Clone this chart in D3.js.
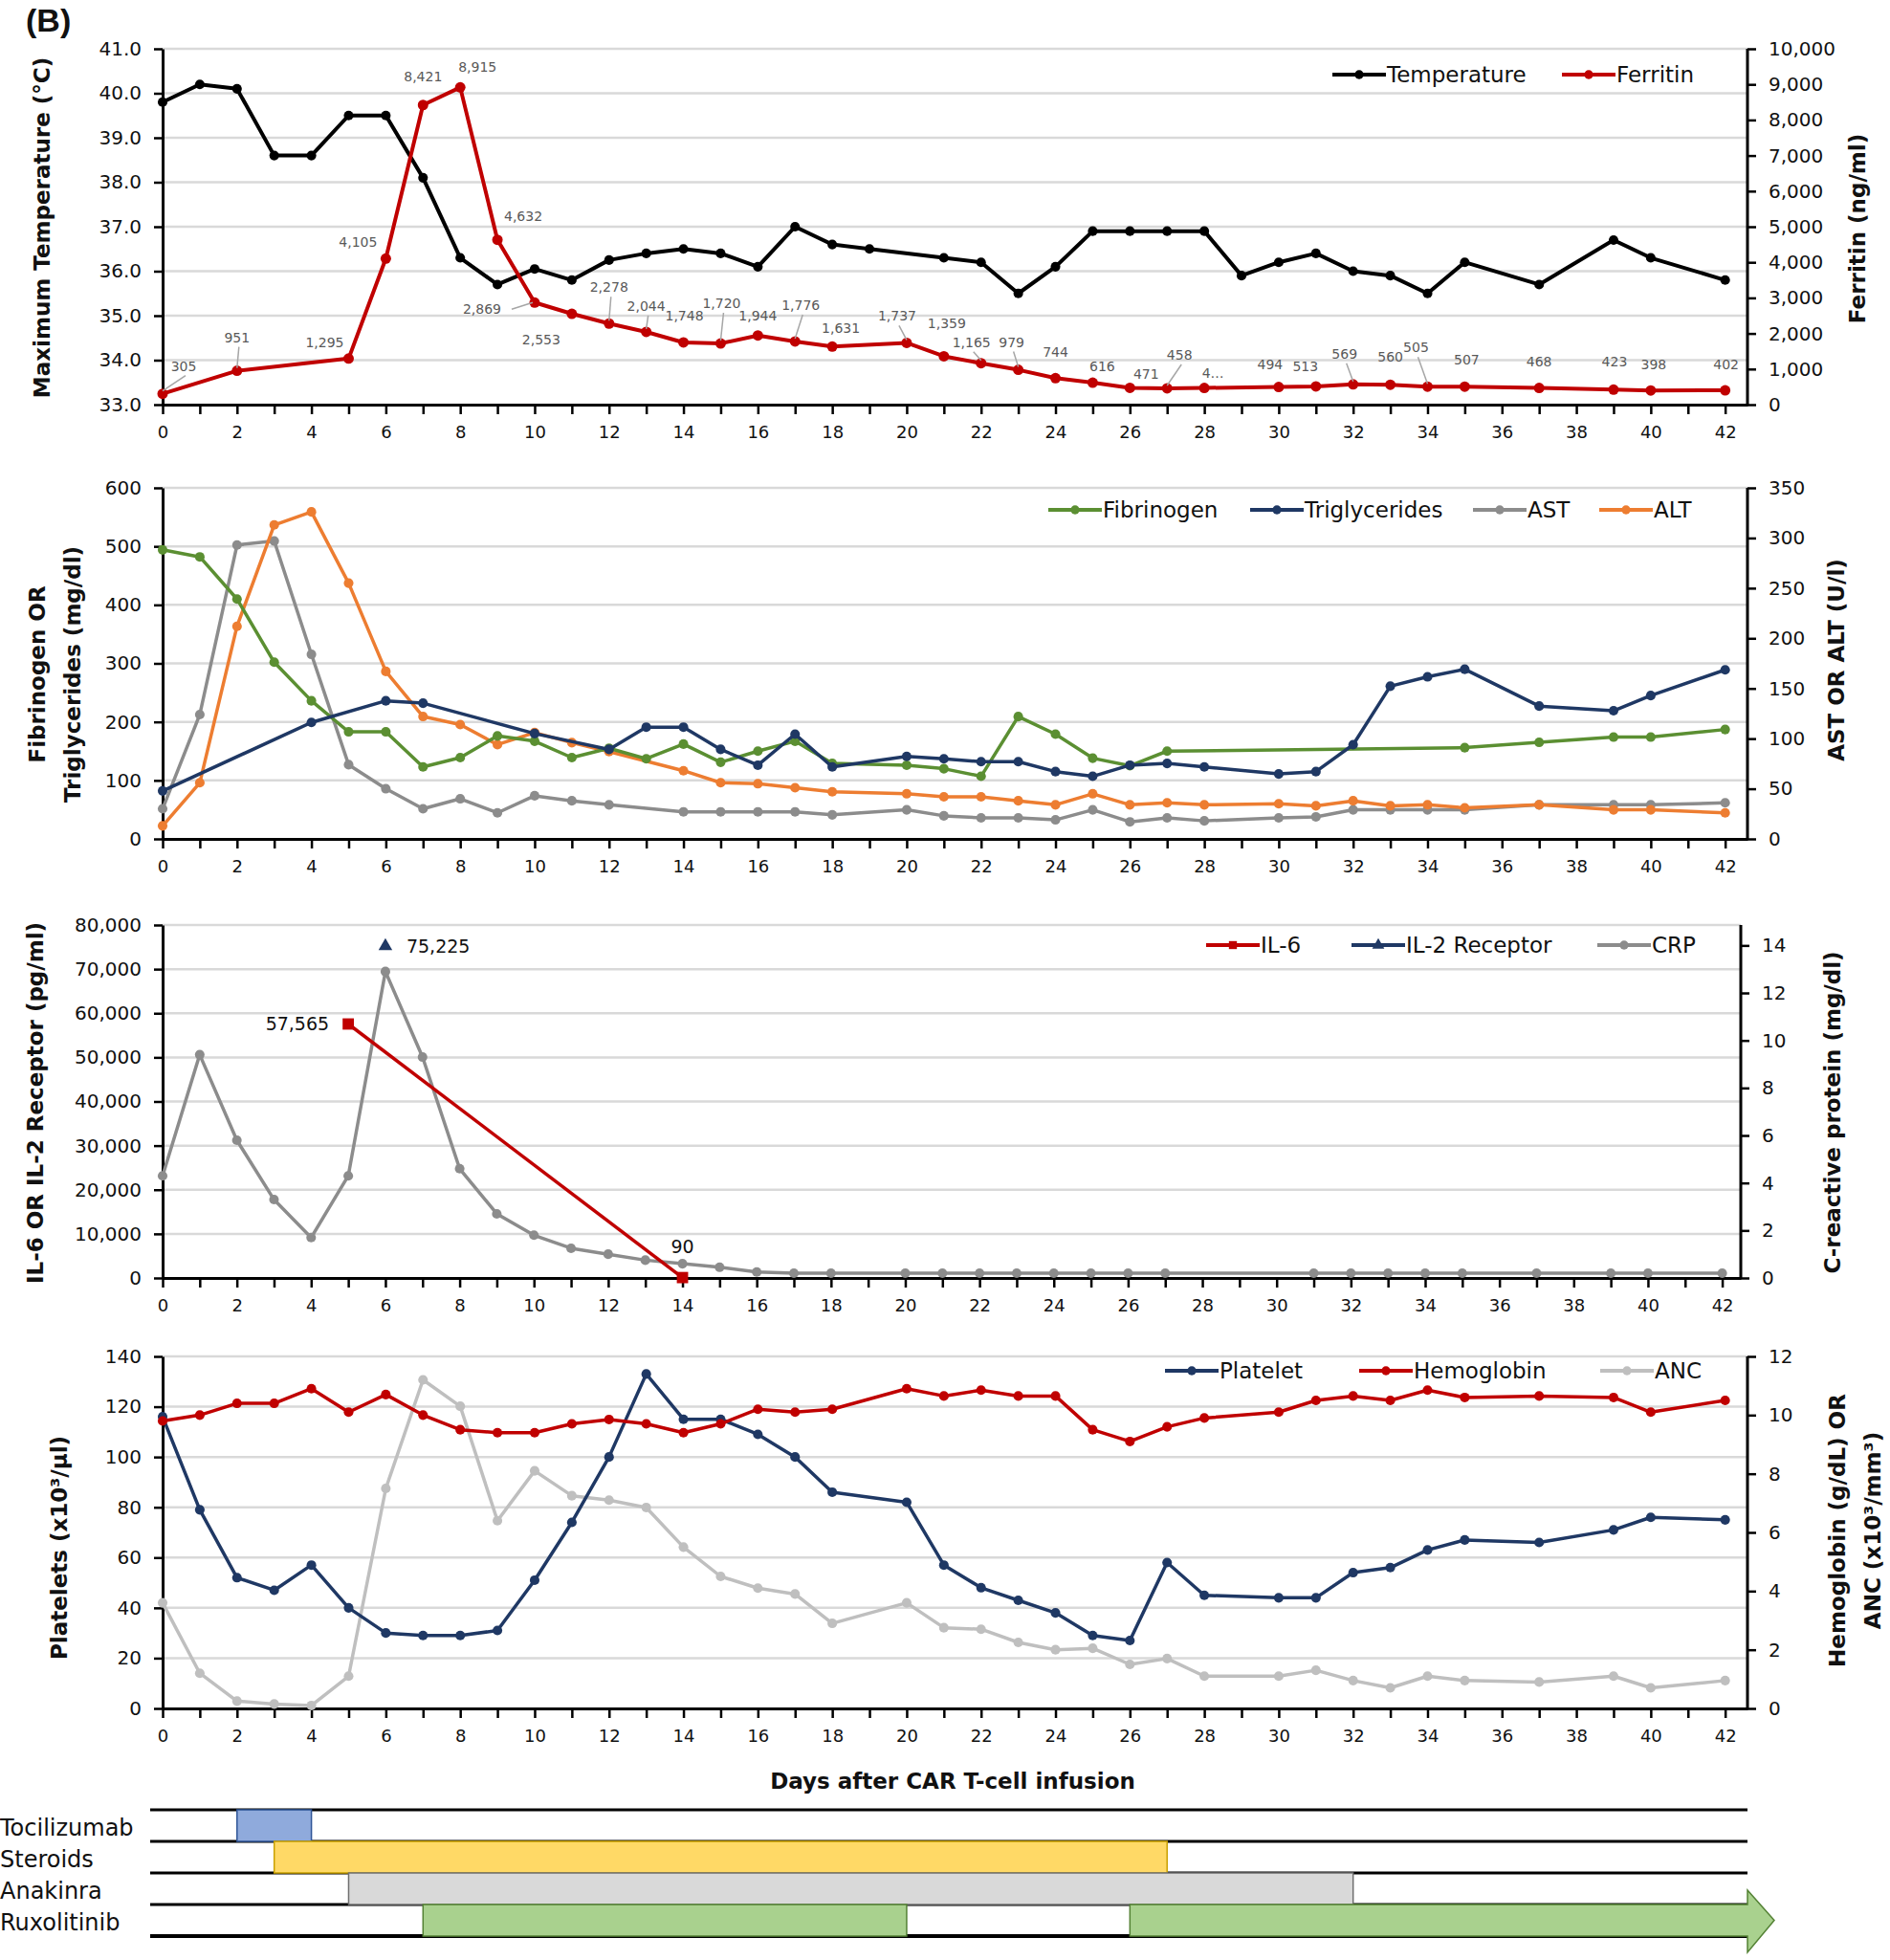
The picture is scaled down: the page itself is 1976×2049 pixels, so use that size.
<!DOCTYPE html>
<html><head><meta charset="utf-8">
<script src="https://cdn.jsdelivr.net/npm/d3@7"></script>
<style>body{margin:0;background:#fff}svg{display:block}</style>
</head><body><script>
// ---------------- DATA ----------------
const tempDays=[0,1,2,3,4,5,6,7,8,9,10,11,12,13,14,15,16,17,18,19,21,22,23,24,25,26,27,28,29,30,31,32,33,34,35,37,39,40,42];
const temperature=[39.8,40.2,40.1,38.6,38.6,39.5,39.5,38.1,36.3,35.7,36.05,35.8,36.25,36.4,36.5,36.4,36.1,37.0,36.6,36.5,36.3,36.2,35.5,36.1,36.9,36.9,36.9,36.9,35.9,36.2,36.4,36.0,35.9,35.5,36.2,35.7,36.7,36.3,35.8];
const ferritinDays=[0,2,5,6,7,8,9,10,11,12,13,14,15,16,17,18,20,21,22,23,24,25,26,27,28,30,31,32,33,34,35,37,39,40,42];
const ferritin=[305,951,1295,4105,8421,8915,4632,2869,2553,2278,2044,1748,1720,1944,1776,1631,1737,1359,1165,979,744,616,471,458,470,494,513,569,560,505,507,468,423,398,402];
const ferritinLabels=["305","951","1,295","4,105","8,421","8,915","4,632","2,869","2,553","2,278","2,044","1,748","1,720","1,944","1,776","1,631","1,737","1,359","1,165","979","744","616","471","458","4…","494","513","569","560","505","507","468","423","398","402"];

const fibDays=[0,1,2,3,4,5,6,7,8,9,10,11,12,13,14,15,16,17,18,20,21,22,23,24,25,26,27,35,37,39,40,42];
const fibrinogen=[494,482,410,302,236,183,183,123,139,176,167,139,155,137,162,131,150,167,129,126,120,107,209,179,138,125,150,156,165,174,174,187];
const trigDays=[0,4,6,7,10,12,13,14,15,16,17,18,20,21,22,23,24,25,26,27,28,30,31,32,33,34,35,37,39,40,42];
const triglycerides=[82,199,236,232,180,153,191,191,153,126,179,123,141,137,132,132,115,107,126,129,123,111,115,161,261,277,290,227,219,245,289];
const liverDays=[0,1,2,3,4,5,6,7,8,9,10,11,12,14,15,16,17,18,20,21,22,23,24,25,26,27,28,30,31,32,33,34,35,37,39,40,42];
const ast=[30,124,293,297,184,74,50,30,40,26,43,38,34,27,27,27,27,24,29,23,21,21,19,29,17,21,18,21,22,29,29,29,29,34,34,34,36];
const alt=[13,56,212,313,326,255,167,122,114,94,106,96,87,68,56,55,51,47,45,42,42,38,34,45,34,36,34,35,33,38,33,34,31,34,29,29,26];

const il6Days=[5,14];
const il6=[57565,90];
const il6Labels=["57,565","90"];
const il2Days=[6];
const il2r=[75225];
const il2Labels=["75,225"];
const crpDays=[0,1,2,3,4,5,6,7,8,9,10,11,12,13,14,15,16,17,18,20,21,22,23,24,25,26,27,31,32,33,34,35,37,39,40,42];
const crp=[4.3,9.4,5.8,3.3,1.7,4.3,12.9,9.3,4.6,2.7,1.8,1.25,1.0,0.75,0.6,0.45,0.25,0.2,0.2,0.2,0.2,0.2,0.2,0.2,0.2,0.2,0.2,0.2,0.2,0.2,0.2,0.2,0.2,0.2,0.2,0.2];

const cbcDays=[0,1,2,3,4,5,6,7,8,9,10,11,12,13,14,15,16,17,18,20,21,22,23,24,25,26,27,28,30,31,32,33,34,35,37,39,40,42];
const platelets=[116,79,52,47,57,40,30,29,29,31,51,74,100,133,115,115,109,100,86,82,57,48,43,38,29,27,58,45,44,44,54,56,63,67,66,71,76,75];
const hemoglobin=[9.8,10.0,10.4,10.4,10.9,10.1,10.7,10.0,9.5,9.4,9.4,9.7,9.85,9.7,9.4,9.7,10.2,10.1,10.2,10.9,10.65,10.85,10.65,10.65,9.5,9.1,9.6,9.9,10.1,10.5,10.65,10.5,10.85,10.6,10.65,10.6,10.1,10.5];
const anc=[3.6,1.2,0.25,0.15,0.1,1.1,7.5,11.2,10.3,6.4,8.1,7.25,7.1,6.85,5.5,4.5,4.1,3.9,2.9,3.6,2.75,2.7,2.25,2.0,2.05,1.5,1.7,1.1,1.1,1.3,0.95,0.7,1.1,0.95,0.9,1.1,0.7,0.95];

const treatments=["Tocilizumab","Steroids","Anakinra","Ruxolitinib"];
const treatmentStarts=[[2],[3],[5],[7,26]];
const treatmentEnds=[[4],[27],[32],[20,null]]; // null = ongoing

const tempTicks=[33,34,35,36,37,38,39,40,41];
const ferritinTicks=d3.range(0,10001,1000);
const labTicks=d3.range(0,601,100);
const enzymeTicks=d3.range(0,351,50);
const cytokineTicks=d3.range(0,80001,10000);
const crpTicks=d3.range(0,15,2);
const plateletTicks=d3.range(0,141,20);
const hbTicks=d3.range(0,13,2);

// ---------------- LAYOUT ----------------
const FONT='"DejaVu Sans", sans-serif';
const svg=d3.select("body").append("svg").attr("width",1976).attr("height",2049);
svg.append("rect").attr("width",1976).attr("height",2049).attr("fill","#fff");

function makePanel(c){
  const x=d3.scaleLinear().domain([0,c.xMax]).range([170,c.x1]);
  const yL=d3.scaleLinear().domain([c.lTicks[0],c.lTicks[c.lTicks.length-1]]).range([c.bottom,c.top]);
  const yR=d3.scaleLinear().domain(c.rDomain).range([c.bottom,c.top]);
  const g=svg.append("g");
  g.selectAll(null).data(c.lTicks.slice(1)).join("line")
    .attr("x1",170).attr("x2",c.x1).attr("y1",d=>yL(d)).attr("y2",d=>yL(d))
    .attr("stroke","#d9d9d9").attr("stroke-width",2.5);
  const style=(a,fs)=>{
    a.select(".domain").attr("stroke","#000").attr("stroke-width",3);
    a.selectAll(".tick line").attr("stroke","#000").attr("stroke-width",2.5);
    a.selectAll("text").attr("fill","#111").attr("font-family",FONT).attr("font-size",fs);
  };
  const la=g.append("g").attr("transform",`translate(170,0)`)
    .call(d3.axisLeft(yL).tickValues(c.lTicks).tickFormat(c.lFormat).tickSize(9).tickSizeOuter(0).tickPadding(13));
  style(la,20);
  const ra=g.append("g").attr("transform",`translate(${c.x1},0)`)
    .call(d3.axisRight(yR).tickValues(c.rTicks).tickFormat(c.rFormat).tickSize(9).tickSizeOuter(0).tickPadding(13));
  style(ra,20);
  ra.select(".domain").attr("d",`M0,${c.bottom}V${c.top}`);
  const ba=g.append("g").attr("transform",`translate(0,${c.bottom})`)
    .call(d3.axisBottom(x).tickValues(d3.range(0,43)).tickFormat(d=>d%2===0?d:"").tickSize(10).tickSizeOuter(0).tickPadding(12));
  style(ba,18);
  return {x,yL,yR,g,c};
}

function series(p,days,vals,y,color,opt={}){
  const pts=days.map((d,i)=>[p.x(d),y(vals[i])]);
  p.g.append("path").attr("d",d3.line()(pts)).attr("fill","none").attr("stroke",color)
    .attr("stroke-width",opt.w||3.5).attr("stroke-linejoin","round");
  const sym=opt.symbol||d3.symbolCircle;
  p.g.selectAll(null).data(pts).join("path")
    .attr("d",d3.symbol().type(sym).size(opt.size||80))
    .attr("transform",d=>`translate(${d[0]},${d[1]})`).attr("fill",color);
  return pts;
}

function legend(y,items){
  items.forEach(it=>{
    svg.append("line").attr("x1",it.x).attr("x2",it.x+56).attr("y1",y).attr("y2",y)
      .attr("stroke",it.color).attr("stroke-width",4);
    svg.append("path").attr("d",d3.symbol().type(it.symbol||d3.symbolCircle).size(70))
      .attr("transform",`translate(${it.x+28},${y})`).attr("fill",it.color);
    svg.append("text").attr("x",it.x+57).attr("y",y).attr("dominant-baseline","central")
      .attr("font-family",FONT).attr("font-size",23).attr("fill","#111").text(it.label);
  });
}

function vtitle(x,y,lines,size=23){
  const t=svg.append("text").attr("transform",`translate(${x},${y}) rotate(-90)`)
    .attr("text-anchor","middle").attr("font-family",FONT).attr("font-weight","bold")
    .attr("font-size",size).attr("fill","#111");
  lines.forEach((l,i)=>t.append("tspan").attr("x",0).attr("dy",i===0?0:size*1.6).text(l));
  return t;
}

const fmt=d3.format(",");

// Panel label
svg.append("text").attr("x",27).attr("y",33).attr("font-family","Liberation Sans, Arial, sans-serif")
  .attr("font-size",34).attr("font-weight","bold").attr("fill","#111").text("(B)");

// ---------- Panel 1 ----------
const p1=makePanel({top:51,bottom:423,x1:1827,xMax:42.6,lTicks:tempTicks,lFormat:d3.format(".1f"),
  rDomain:[0,10000],rTicks:ferritinTicks,rFormat:fmt});
series(p1,tempDays,temperature,p1.yL,"#000",{w:4});
const fPts=series(p1,ferritinDays,ferritin,p1.yR,"#c00000",{w:4,size:95});
// label layout offsets (dx, dy, leader type)
const ferritinLabelOffsets=[[22,-29,1],[0,-35,1],[-25,-17,0],[-29,-17,0],[0,-30,0],[18,-21,0],[27,-25,0],[-55,7,2],[-32,27,0],[0,-38,1],
 [0,-27,1],[1,-28,0],[1,-42,1],[0,-21,0],[6,-38,1],[9,-19,0],[-10,-28,1],[3,-34,0],[-10,-22,1],[-7,-29,1],
 [0,-27,0],[10,-17,0],[17,-14,0],[13,-35,1],[9,-16,0],[-9,-24,0],[-11,-21,0],[-9,-32,1],[0,-29,0],[-12,-41,1],
 [2,-28,0],[0,-28,0],[1,-29,0],[3,-27,0],[1,-27,0]];
fPts.forEach((pt,i)=>{
  const [dx,dy,lead]=ferritinLabelOffsets[i];
  const lx=pt[0]+dx, ly=pt[1]+dy;
  if(lead===1){
    p1.g.append("line").attr("x1",pt[0]).attr("y1",pt[1]-3).attr("x2",lx+2).attr("y2",ly+10)
      .attr("stroke","#a6a6a6").attr("stroke-width",1.5);
  } else if(lead===2){
    p1.g.append("line").attr("x1",pt[0]-2).attr("y1",pt[1]).attr("x2",lx+31).attr("y2",ly)
      .attr("stroke","#a6a6a6").attr("stroke-width",1.5);
  }
  p1.g.append("text").attr("x",lx).attr("y",ly).attr("text-anchor","middle").attr("dominant-baseline","central")
    .attr("font-family",FONT).attr("font-size",14).attr("fill","#595959").text(ferritinLabels[i]);
});
legend(78,[{x:1393,label:"Temperature",color:"#000"},{x:1633,label:"Ferritin",color:"#c00000"}]);
vtitle(52,238,["Maximum Temperature (°C)"]);
vtitle(1950,239,["Ferritin (ng/ml)"]);

// ---------- Panel 2 ----------
const p2=makePanel({top:510,bottom:877,x1:1827,xMax:42.6,lTicks:labTicks,lFormat:d3.format("d"),
  rDomain:[0,350],rTicks:enzymeTicks,rFormat:d3.format("d")});
series(p2,liverDays,ast,p2.yR,"#8c8c8c");
series(p2,liverDays,alt,p2.yR,"#ed7d31");
series(p2,fibDays,fibrinogen,p2.yL,"#5b8f32");
series(p2,trigDays,triglycerides,p2.yL,"#1f3864");
legend(533,[{x:1096,label:"Fibrinogen",color:"#5b8f32"},{x:1307,label:"Triglycerides",color:"#1f3864"},
  {x:1540,label:"AST",color:"#8c8c8c"},{x:1672,label:"ALT",color:"#ed7d31"}]);
vtitle(47,705,["Fibrinogen OR","Triglycerides (mg/dl)"]);
vtitle(1928,690,["AST OR ALT (U/l)"]);

// ---------- Panel 3 ----------
const p3=makePanel({top:967,bottom:1336,x1:1820,xMax:42.5,lTicks:cytokineTicks,lFormat:fmt,
  rDomain:[0,14.86],rTicks:crpTicks,rFormat:d3.format("d")});
series(p3,crpDays,crp,p3.yR,"#8c8c8c");
const il6Pts=series(p3,il6Days,il6,p3.yL,"#c00000",{symbol:d3.symbolSquare,size:140});
const il2Pts=series(p3,il2Days,il2r,p3.yL,"#1f3864",{symbol:d3.symbolTriangle,size:90});
p3.g.append("text").attr("x",il6Pts[0][0]-20).attr("y",il6Pts[0][1]).attr("text-anchor","end").attr("dominant-baseline","central")
  .attr("font-family",FONT).attr("font-size",19).attr("fill","#111").text(il6Labels[0]);
p3.g.append("text").attr("x",il6Pts[1][0]).attr("y",il6Pts[1][1]-33).attr("text-anchor","middle").attr("dominant-baseline","central")
  .attr("font-family",FONT).attr("font-size",19).attr("fill","#111").text(il6Labels[1]);
p3.g.append("text").attr("x",il2Pts[0][0]+22).attr("y",il2Pts[0][1]).attr("dominant-baseline","central")
  .attr("font-family",FONT).attr("font-size",19).attr("fill","#111").text(il2Labels[0]);
legend(988,[{x:1261,label:"IL-6",color:"#c00000",symbol:d3.symbolSquare},{x:1413,label:"IL-2 Receptor",color:"#1f3864",symbol:d3.symbolTriangle},
  {x:1670,label:"CRP",color:"#8c8c8c"}]);
vtitle(45,1153,["IL-6 OR IL-2 Receptor (pg/ml)"]);
vtitle(1924,1163,["C-reactive protein (mg/dl)"]);

// ---------- Panel 4 ----------
const p4=makePanel({top:1418,bottom:1786,x1:1827,xMax:42.6,lTicks:plateletTicks,lFormat:d3.format("d"),
  rDomain:[0,12],rTicks:hbTicks,rFormat:d3.format("d")});
series(p4,cbcDays,anc,p4.yR,"#bfbfbf");
series(p4,cbcDays,platelets,p4.yL,"#1f3864");
series(p4,cbcDays,hemoglobin,p4.yR,"#c00000");
legend(1433,[{x:1218,label:"Platelet",color:"#1f3864"},{x:1421,label:"Hemoglobin",color:"#c00000"},{x:1673,label:"ANC",color:"#bfbfbf"}]);
vtitle(70,1618,["Platelets (x10³/µl)"]);
vtitle(1929,1600,["Hemoglobin (g/dL) OR","ANC (x10³/mm³)"]);

svg.append("text").attr("x",996).attr("y",1862).attr("text-anchor","middle").attr("dominant-baseline","central")
  .attr("font-family",FONT).attr("font-weight","bold").attr("font-size",23).attr("fill","#111").text("Days after CAR T-cell infusion");

// ---------- Treatment timeline ----------
const x=p4.x;
const rowLines=[1892,1925,1958,1991,2024];
const fills=["#8faadc","#ffd966","#d9d9d9","#a9d18e"];
const strokes=["#2f5597","#c9a000","#6f6f6f","#548235"];
rowLines.forEach((y,i)=>svg.append("line").attr("x1",157).attr("x2",1827).attr("y1",y).attr("y2",y)
  .attr("stroke","#000").attr("stroke-width",i===4?4:3));
treatments.forEach((name,i)=>{
  const y0=rowLines[i], y1=rowLines[i+1];
  treatmentStarts[i].forEach((s,j)=>{
    const e=treatmentEnds[i][j];
    if(e===null){
      const xs=x(s), xe=x(42.6), tip=xe+28, mid=(y0+y1)/2;
      svg.append("path").attr("d",`M${xs},${y0}H${xe}V${y0-15}L${tip},${mid}L${xe},${y1+17}V${y1}H${xs}Z`)
        .attr("fill",fills[i]).attr("stroke",strokes[i]).attr("stroke-width",1.5);
    } else {
      svg.append("rect").attr("x",x(s)).attr("y",y0).attr("width",x(e)-x(s)).attr("height",y1-y0)
        .attr("fill",fills[i]).attr("stroke",strokes[i]).attr("stroke-width",1.5);
    }
  });
  svg.append("text").attr("x",0).attr("y",(y0+y1)/2+2).attr("dominant-baseline","central")
    .attr("font-family",FONT).attr("font-size",24).attr("fill","#111").text(name);
});
</script></body></html>
